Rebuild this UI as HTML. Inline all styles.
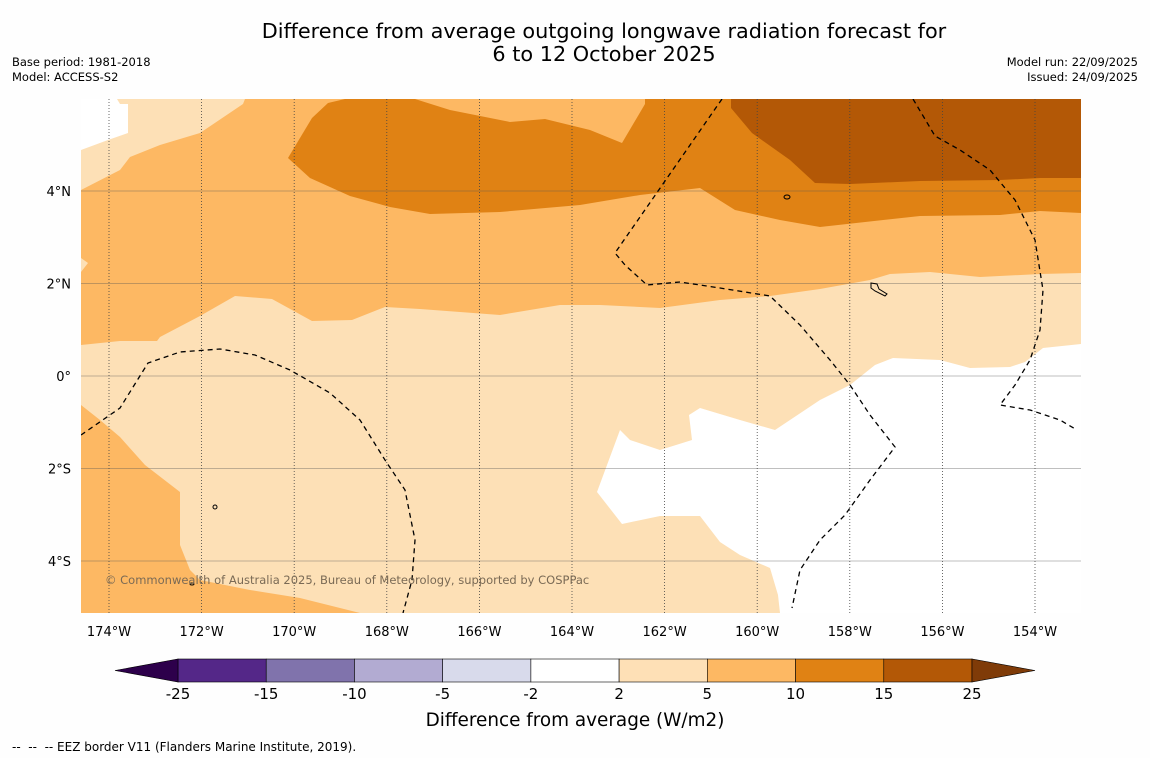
<!DOCTYPE html>
<html><head><meta charset="utf-8"><style>
body{margin:0;background:#fefefe;font-family:"DejaVu Sans","Liberation Sans",sans-serif;}
svg{display:block;font-family:"DejaVu Sans","Liberation Sans",sans-serif;}
</style></head><body>
<svg width="1150" height="758" viewBox="0 0 1150 758">
<rect width="1150" height="758" fill="#fefefe"/>
<text x="604" y="38" font-size="20.8" text-anchor="middle">Difference from average outgoing longwave radiation forecast for</text>
<text x="604" y="61" font-size="20.8" text-anchor="middle">6 to 12 October 2025</text>
<text x="12" y="66" font-size="11.5">Base period: 1981-2018</text>
<text x="12" y="81" font-size="11.5">Model: ACCESS-S2</text>
<text x="1138" y="66" font-size="11.5" text-anchor="end">Model run: 22/09/2025</text>
<text x="1138" y="81" font-size="11.5" text-anchor="end">Issued: 24/09/2025</text>
<defs><clipPath id="mc"><rect x="81" y="99" width="1000" height="514"/></clipPath></defs>
<g id="map" clip-path="url(#mc)">
<rect x="81" y="99" width="1000" height="514" fill="#fde0b6"/>
<polygon fill="#ffffff" points="81,99 117,99 120,104 128,104 128,133 108,140 81,150"/>
<polygon fill="#ffffff" points="1081,344 1043,348 1025,362 1010,367 970,368 940,360 893,358 875,365 850,385 820,400 775,430 740,420 700,408 689,415 692,440 660,450 630,440 620,430 597,492 622,524 660,516 700,516 720,542 740,555 770,568 778,595 780,613 1081,613"/>
<polygon fill="#fdb863" points="81,190 120,170 130,157 160,145 200,133 243,104 245,99 1081,99 1081,273 1040,274 980,277 930,272 890,274 870,280 820,289 770,296 720,300 660,308 600,305 560,305 500,315 420,309 385,307 352,320 312,321 272,299 235,296 200,316 160,337 157,341 120,341 81,345"/>
<polygon fill="#fde0b6" points="81,258 88,263 81,272"/>
<polygon fill="#fdb863" points="81,405 100,420 120,437 145,465 180,492 180,545 190,570 200,580 250,590 300,598 360,613 81,613"/>
<polygon fill="#e08214" points="288,158 312,118 328,103 345,99 415,99 450,110 510,122 545,119 590,130 622,143 645,104 645,99 1081,99 1081,213 1040,211 1000,215 920,216 820,227 780,220 735,210 700,188 640,195 580,205 500,212 430,214 390,207 350,196 310,178"/>
<polygon fill="#b35806" points="731,99 731,108 752,133 790,160 815,183 850,184 920,181 1000,180 1040,178 1081,178 1081,99"/>
<g id="grid"></g>
<g fill="none" stroke="#000" stroke-width="1.3" stroke-dasharray="5,4">
<polyline points="722,99 615,253 625,265 647,285 680,282 720,288 770,296 800,325 830,360 850,385 870,415 895,447 870,480 845,515 820,540 800,570 792,608"/>
<polyline points="913,99 935,136 960,150 990,170 1015,200 1035,240 1043,290 1040,330 1030,360 1015,385 1000,405 1030,410 1060,420 1077,430"/>
<polyline points="81,435 120,408 148,363 180,352 220,349 255,355 290,370 330,393 360,420 385,460 405,490 415,540 412,580 403,613"/>
</g>
<g fill="none" stroke="#000" stroke-width="1">
<path d="M871,283 l6,1 l2,5 l8,5 l-2,2 l-10,-5 l-4,-3z"/>
<ellipse cx="787" cy="197" rx="3" ry="2"/>
<ellipse cx="215" cy="507" rx="2" ry="2"/>
<ellipse cx="192" cy="584" rx="2" ry="1"/>
</g>
<text x="105" y="584" font-size="11.5" fill="#7a6a55">© Commonwealth of Australia 2025, Bureau of Meteorology, supported by COSPPac</text>
</g>
<g id="axes" font-size="13"></g>
<g id="cbar"></g>
<text x="575" y="726" font-size="18.4" text-anchor="middle">Difference from average (W/m2)</text>
<text x="12" y="751" font-size="12" xml:space="preserve">--  --  -- EEZ border V11 (Flanders Marine Institute, 2019).</text>
</svg>
<script>
const lonTicks=[-174,-172,-170,-168,-166,-164,-162,-160,-158,-156,-154];
const latTicks=[4,2,0,-2,-4];
const levels=[-25,-15,-10,-5,-2,2,5,10,15,25];
const levelColors=["#542788","#8073ac","#b2abd2","#d8daeb","#ffffff","#fee0b6","#fdb863","#e08214","#b35806"];
const extColors=["#2d004b","#7f3b08"];
const NS="http://www.w3.org/2000/svg";
function xs(lon){return 109+(lon+174)*46.3;}
function ys(lat){return 376-lat*46.25;}
function mk(t,a,p){const e=document.createElementNS(NS,t);for(const k in a)e.setAttribute(k,a[k]);p.appendChild(e);return e;}
const grid=document.getElementById('grid'),axes=document.getElementById('axes');
lonTicks.forEach(l=>{const x=xs(l);
 const ln=mk('line',{x1:x,x2:x,y1:99,y2:613,stroke:'#444','stroke-width':0.8,'stroke-dasharray':'1,2'},grid);
 
 
 const t=mk('text',{x:x,y:636,'text-anchor':'middle'},axes);t.textContent=Math.abs(l)+'°W';
 
 });
latTicks.forEach(l=>{const y=ys(l);
 const ln=mk('line',{x1:81,x2:1081,y1:y,y2:y,stroke:'#555','stroke-opacity':0.5,'stroke-width':0.8},grid);
 
 
 const t=mk('text',{x:71,y:y+5,'text-anchor':'end'},axes);t.textContent=l===0?'0°':Math.abs(l)+'°'+(l>0?'N':'S');
 
 });
const cb=document.getElementById('cbar');
const x0=178,w=(972-178)/levelColors.length,y0=659,h=23;
levelColors.forEach((c,i)=>{const r=mk('rect',{x:x0+i*w,y:y0,width:w,height:h,fill:c,stroke:'#000','stroke-width':0.6},cb);
 
 });
let p=mk('polygon',{points:`${x0},${y0} ${x0},${y0+h} 115,${y0+h/2}`,fill:extColors[0],stroke:'#000','stroke-width':0.6},cb);


p=mk('polygon',{points:`972,${y0} 972,${y0+h} 1035,${y0+h/2}`,fill:extColors[1],stroke:'#000','stroke-width':0.6},cb);


levels.forEach((v,i)=>{const t=mk('text',{x:x0+i*w,y:699,'text-anchor':'middle','font-size':15},cb);t.textContent=v;
 
 });
</script>
</body></html>
